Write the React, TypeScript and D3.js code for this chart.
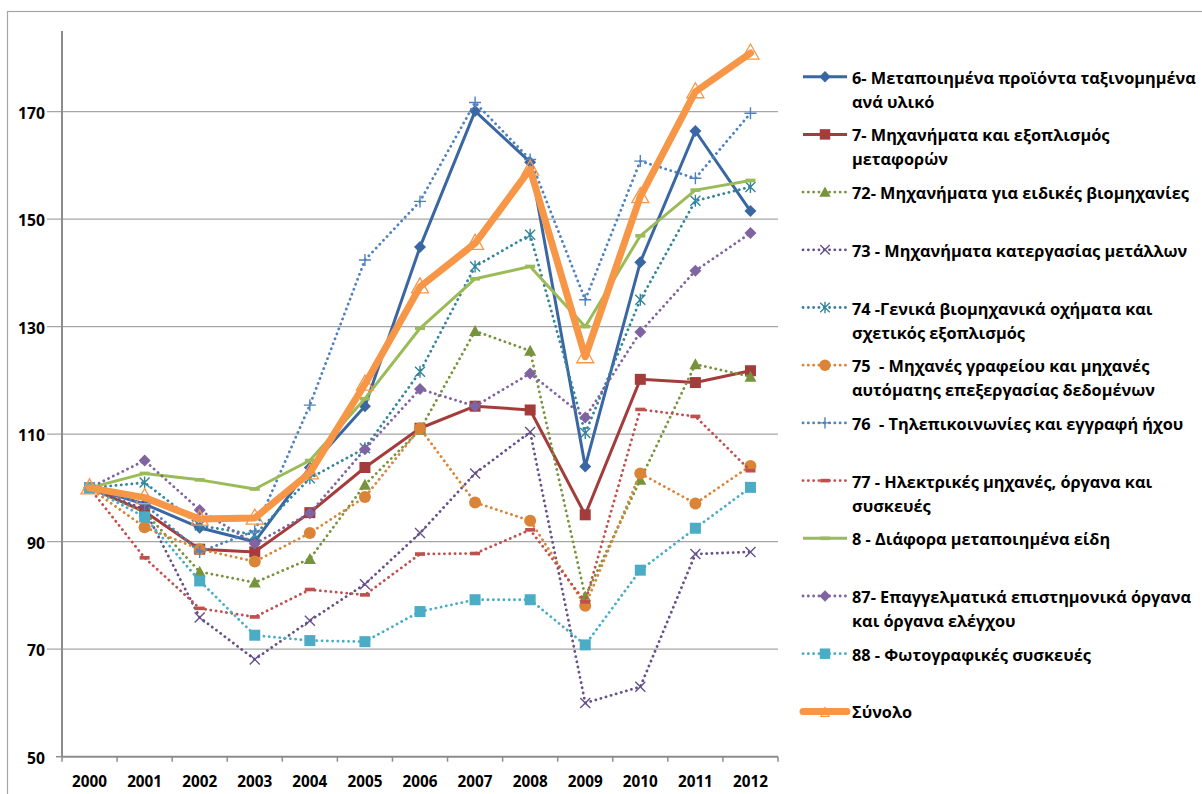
import React, { useEffect, useRef } from 'react';
import * as d3 from 'd3';

// years on the x axis
const years = ['2000', '2001', '2002', '2003', '2004', '2005', '2006', '2007', '2008', '2009', '2010', '2011', '2012'];
const yTicks = [50, 70, 90, 110, 130, 150, 170];

// index values (2000 = 100)
const s6 = [100, 97, 92.6, 90, 103.8, 115.2, 144.8, 170.1, 160.6, 104.0, 142.0, 166.4, 151.5];
const s7 = [100, 95.6, 88.6, 88.1, 95.4, 103.8, 111.1, 115.2, 114.5, 95.0, 120.2, 119.6, 121.8];
const s72 = [100, 95.5, 84.4, 82.4, 86.8, 100.6, 110.8, 129.2, 125.5, 79.8, 101.5, 123.0, 120.7];
const s73 = [100, 96, 75.9, 68.1, 75.3, 82.1, 91.6, 102.7, 110.4, 60.0, 63.0, 87.7, 88.1];
const s74 = [100, 101.0, 93.0, 91.3, 101.8, 107.4, 121.6, 141.2, 147.1, 110.2, 135.0, 153.4, 156.0];
const s75 = [100, 92.7, 88.6, 86.3, 91.6, 98.3, 111.1, 97.3, 93.9, 78.1, 102.7, 97.1, 104.1];
const s76 = [100, 97, 88.1, 92, 115.4, 142.4, 153.3, 171.7, 161.1, 135.0, 160.8, 157.6, 169.7];
const s77 = [100, 87, 77.6, 76.0, 81.1, 80.1, 87.7, 87.8, 92.2, 78.8, 114.6, 113.3, 103.2];
const s8 = [100, 102.7, 101.5, 99.8, 105.1, 116.6, 129.7, 138.9, 141.2, 130.0, 146.9, 155.4, 157.2];
const s87 = [100, 105.1, 95.9, 89.6, 95.3, 107.2, 118.4, 115.2, 121.3, 113.1, 129.0, 140.4, 147.4];
const s88 = [100, 94.6, 82.7, 72.6, 71.6, 71.4, 77.0, 79.2, 79.2, 70.8, 84.7, 92.5, 100.1];
const total = [100, 98.2, 94.2, 94.4, 102.8, 119.3, 137.4, 145.5, 159.3, 124.4, 154.2, 173.7, 180.9];

const labels = [
  ['6- Μεταποιημένα προϊόντα ταξινομημένα', 'ανά υλικό'],
  ['7- Μηχανήματα και εξοπλισμός', 'μεταφορών'],
  ['72- Μηχανήματα για ειδικές βιομηχανίες'],
  ['73 - Μηχανήματα κατεργασίας μετάλλων'],
  ['74 -Γενικά βιομηχανικά οχήματα και', 'σχετικός εξοπλισμός'],
  ['75  - Μηχανές γραφείου και μηχανές', 'αυτόματης επεξεργασίας δεδομένων'],
  ['76  - Τηλεπικοινωνίες και εγγραφή ήχου'],
  ['77 - Ηλεκτρικές μηχανές, όργανα και', 'συσκευές'],
  ['8 - Διάφορα μεταποιημένα είδη'],
  ['87- Επαγγελματικά επιστημονικά όργανα', 'και όργανα ελέγχου'],
  ['88 - Φωτογραφικές συσκευές'],
  ['Σύνολο'],
];

type Marker = 'diamond' | 'square' | 'triangle' | 'x' | 'star' | 'circle' | 'plus' | 'dash' | 'none' | 'hollowTri';

interface Series {
  values: number[];
  color: string;
  dotted: boolean;
  width: number;
  marker: Marker;
}

const series: Series[] = [
  { values: s6, color: '#3A67A3', dotted: false, width: 3, marker: 'diamond' },
  { values: s7, color: '#A33C3A', dotted: false, width: 3, marker: 'square' },
  { values: s72, color: '#77933C', dotted: true, width: 2.8, marker: 'triangle' },
  { values: s73, color: '#65508A', dotted: true, width: 2.8, marker: 'x' },
  { values: s74, color: '#31859C', dotted: true, width: 2.8, marker: 'star' },
  { values: s75, color: '#D98437', dotted: true, width: 2.8, marker: 'circle' },
  { values: s76, color: '#4F81BD', dotted: true, width: 2.8, marker: 'plus' },
  { values: s77, color: '#C0504D', dotted: true, width: 2.8, marker: 'dash' },
  { values: s8, color: '#9BBB59', dotted: false, width: 3, marker: 'dash' },
  { values: s87, color: '#8064A2', dotted: true, width: 2.8, marker: 'diamond' },
  { values: s88, color: '#4BACC6', dotted: true, width: 2.8, marker: 'square' },
  { values: total, color: '#F79646', dotted: false, width: 7, marker: 'hollowTri' },
];

const FONT = "'Open Sans', 'Noto Sans', sans-serif";

function drawMarker(g: d3.Selection<SVGGElement, unknown, null, undefined>, m: Marker, cx: number, cy: number, color: string, scale = 1) {
  const s = scale;
  switch (m) {
    case 'diamond':
      g.append('path').attr('d', `M${cx},${cy - 6 * s}L${cx + 6 * s},${cy}L${cx},${cy + 6 * s}L${cx - 6 * s},${cy}Z`).attr('fill', color);
      break;
    case 'square':
      g.append('rect').attr('x', cx - 5.5 * s).attr('y', cy - 5.5 * s).attr('width', 11 * s).attr('height', 11 * s).attr('fill', color);
      break;
    case 'triangle':
      g.append('path').attr('d', `M${cx},${cy - 6 * s}L${cx + 6 * s},${cy + 5 * s}L${cx - 6 * s},${cy + 5 * s}Z`).attr('fill', color);
      break;
    case 'circle':
      g.append('circle').attr('cx', cx).attr('cy', cy).attr('r', 6 * s).attr('fill', color);
      break;
    case 'x':
      g.append('path').attr('d', `M${cx - 5 * s},${cy - 5 * s}L${cx + 5 * s},${cy + 5 * s}M${cx + 5 * s},${cy - 5 * s}L${cx - 5 * s},${cy + 5 * s}`)
        .attr('stroke', color).attr('stroke-width', 1.4).attr('fill', 'none');
      break;
    case 'star':
      g.append('path').attr('d', `M${cx - 5 * s},${cy - 5 * s}L${cx + 5 * s},${cy + 5 * s}M${cx + 5 * s},${cy - 5 * s}L${cx - 5 * s},${cy + 5 * s}M${cx},${cy - 6 * s}L${cx},${cy + 6 * s}`)
        .attr('stroke', color).attr('stroke-width', 1.4).attr('fill', 'none');
      break;
    case 'plus':
      g.append('path').attr('d', `M${cx - 6 * s},${cy}L${cx + 6 * s},${cy}M${cx},${cy - 6 * s}L${cx},${cy + 6 * s}`)
        .attr('stroke', color).attr('stroke-width', 1.4).attr('fill', 'none');
      break;
    case 'dash':
      g.append('rect').attr('x', cx - 5 * s).attr('y', cy - 1.8).attr('width', 10 * s).attr('height', 3.6).attr('fill', color);
      break;
    case 'hollowTri':
      g.append('path').attr('d', `M${cx},${cy - 9 * s}L${cx + 8.5 * s},${cy + 6 * s}L${cx - 8.5 * s},${cy + 6 * s}Z`)
        .attr('fill', 'none').attr('stroke', color).attr('stroke-width', 1.3);
      break;
    default:
      break;
  }
}

// scale a group of texts so that a sample text reaches the target width
function fitSize(texts: d3.Selection<SVGTextElement, any, any, any>, sample: SVGTextElement | null, base: number, target: number) {
  if (!sample) return;
  const w = sample.getComputedTextLength();
  if (w > 0) texts.attr('font-size', base * target / w);
}

export default function App() {
  const svgRef = useRef<SVGSVGElement>(null);

  useEffect(() => {
    if (!svgRef.current) return;
    const svg = d3.select(svgRef.current);
    svg.selectAll('*').remove();

    const left = 62, right = 778, top = 31, bottom = 756.7;

    const x = d3.scaleBand<string>().domain(years).range([left, right]);
    const y = d3.scaleLinear().domain([50, 185]).range([bottom, top]);
    const cx = (yr: string) => (x(yr) as number) + x.bandwidth() / 2;

    // outer frame
    svg.append('rect').attr('x', 7.5).attr('y', 11.5).attr('width', 1210).attr('height', 800)
      .attr('fill', 'none').attr('stroke', '#A6A6A6').attr('stroke-width', 1.2);

    // gridlines
    svg.append('g').selectAll('line').data(yTicks.filter(t => t > 50)).join('line')
      .attr('x1', 47).attr('x2', right).attr('y1', d => y(d)).attr('y2', d => y(d))
      .attr('stroke', '#A6A6A6').attr('stroke-width', 1.3);

    // y axis
    svg.append('line').attr('x1', left).attr('x2', left).attr('y1', top).attr('y2', bottom)
      .attr('stroke', '#8C8C8C').attr('stroke-width', 2);
    svg.append('line').attr('x1', 56).attr('x2', left).attr('y1', y(50)).attr('y2', y(50))
      .attr('stroke', '#8C8C8C').attr('stroke-width', 1.5);
    const yLab = svg.append('g').selectAll('text').data(yTicks).join('text')
      .attr('x', 45).attr('y', d => y(d) + 1).attr('text-anchor', 'end').attr('dominant-baseline', 'central')
      .attr('font-family', FONT).attr('font-weight', 700).attr('font-size', 14).attr('fill', '#000')
      .text(d => String(d));

    // x axis
    svg.append('line').attr('x1', left).attr('x2', right).attr('y1', bottom).attr('y2', bottom)
      .attr('stroke', '#8C8C8C').attr('stroke-width', 2);
    const bounds = years.map(yr => x(yr) as number).concat([right]);
    svg.append('g').selectAll('line').data(bounds).join('line')
      .attr('x1', d => d).attr('x2', d => d).attr('y1', bottom).attr('y2', bottom + 5)
      .attr('stroke', '#8C8C8C').attr('stroke-width', 1.5);
    const xLab = svg.append('g').selectAll('text').data(years).join('text')
      .attr('x', d => cx(d)).attr('y', 781).attr('text-anchor', 'middle').attr('dominant-baseline', 'central')
      .attr('font-family', FONT).attr('font-weight', 700).attr('font-size', 14).attr('fill', '#000')
      .text(d => d);
    fitSize(xLab, xLab.nodes()[0], 14, 35);
    fitSize(yLab, yLab.nodes()[6], 14, 27);

    // series
    const line = d3.line<number>().x((_, i) => cx(years[i])).y(d => y(d));
    series.forEach(s => {
      const g = svg.append('g');
      const p = g.append('path').datum(s.values).attr('d', line).attr('fill', 'none')
        .attr('stroke', s.color).attr('stroke-width', s.width).attr('stroke-linejoin', 'round');
      if (s.dotted) p.attr('stroke-dasharray', '0.1 5.2').attr('stroke-linecap', 'round');
      else p.attr('stroke-linecap', 'round');
      s.values.forEach((v, i) => drawMarker(g, s.marker, cx(years[i]), y(v), s.color));
    });

    // legend
    const lg = svg.append('g');
    const legX1 = 803, legX2 = 847, textX = 852, firstY = 76.7, slot = 57.7, lineH = 24;
    series.forEach((s, i) => {
      const ly = firstY + i * slot;
      const p = lg.append('line').attr('x1', legX1).attr('x2', legX2).attr('y1', ly).attr('y2', ly)
        .attr('stroke', s.color).attr('stroke-width', s.width);
      if (s.dotted) p.attr('stroke-dasharray', '0.1 5.2').attr('stroke-linecap', 'round');
      else p.attr('stroke-linecap', s.width > 5 ? 'round' : 'butt');
      if (s.marker === 'hollowTri') {
        lg.append('path').attr('d', `M${825},${ly - 4}L${829},${ly + 5}L${821},${ly + 5}Z`)
          .attr('fill', 'none').attr('stroke', s.color).attr('stroke-width', 1.2);
      } else {
        drawMarker(lg, s.marker, 825, ly, s.color, 0.95);
      }
      labels[i].forEach((t, j) => {
        lg.append('text').attr('class', 'leg').attr('x', textX).attr('y', ly + j * lineH + 1).attr('dominant-baseline', 'central')
          .attr('font-family', FONT).attr('font-weight', 700).attr('font-size', 15).attr('fill', '#000')
          .style('white-space', 'pre')
          .text(t);
      });
    });
    const legTexts = lg.selectAll<SVGTextElement, unknown>('text.leg');
    fitSize(legTexts, legTexts.nodes()[0], 15, 344);
  }, []);

  return (
    <svg ref={svgRef} width={1202} height={794}
      style={{ position: 'absolute', left: 0, top: 0, background: '#fff', display: 'block' }} />
  );
}
